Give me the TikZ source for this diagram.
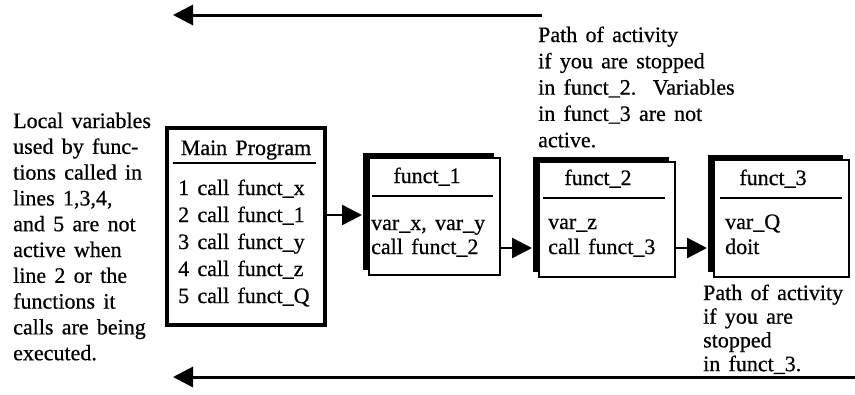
\documentclass[tikz,border=0pt]{standalone}
\usepackage{fontspec}
\setmainfont{Liberation Serif}[WordSpace=1.5, FakeBold=0.6]
\usetikzlibrary{arrows.meta,shadows}
\begin{document}
\begin{tikzpicture}[x=1pt,y=-1pt,
  txt/.style={font=\fontsize{22}{26}\selectfont, inner sep=0pt, anchor=base west},
  hdr/.style={font=\fontsize{22}{26}\selectfont, inner sep=0pt, anchor=base},
  mainbox/.style={draw, line width=3.5pt, inner sep=0pt},
  fbox/.style={draw, line width=2pt, fill=white, inner sep=0pt,
    general shadow={fill=black, shadow xshift=-6pt, shadow yshift=5pt}},
  rule/.style={line width=2.5pt},
  conn/.style={line width=2.5pt, -{Triangle[length=20pt,width=20pt]}},
  bigarrow/.style={line width=3pt, -{Triangle[length=20pt,width=20pt]}}
]
\useasboundingbox (0,0) rectangle (855,394);

% long arrows
\coordinate (topstart) at (542,15);
\coordinate (topend) at (173,15);
\draw[bigarrow] (topstart) -- (topend);
\coordinate (botstart) at (855,377);
\coordinate (botend) at (173,377);
\draw[bigarrow] (botstart) -- (botend);

% main program box
\node[mainbox, minimum width=158pt, minimum height=197pt] (main) at (246,226.5) {};
\node[hdr] (mainh) at (246,155) {Main Program};
\draw[line width=2pt] (173,163) -- (316,163);
\foreach \t [count=\i] in {1 call funct\_x, 2 call funct\_1, 3 call funct\_y, 4 call funct\_z, 5 call funct\_Q}
  \node[txt] (m\i) at (178,{195+27*(\i-1)}) {\t};

% funct_1
\node[fbox, minimum width=131pt, minimum height=117pt] (f1) at (434.5,216.5) {};
\node[hdr] (f1h) at (427,183) {funct\_1};
\draw[rule] (372,196) -- (493,196);
\node[txt] (f1a) at (371,230) {var\_x, var\_y};
\node[txt] (f1b) at (371,254) {call funct\_2};

% funct_2
\node[fbox, minimum width=136pt, minimum height=115pt] (f2) at (607,219.5) {};
\node[hdr] (f2h) at (598,185) {funct\_2};
\draw[rule] (543,198) -- (665,198);
\node[txt] (f2a) at (548,229) {var\_z};
\node[txt] (f2b) at (548,254) {call funct\_3};

% funct_3
\node[fbox, minimum width=135pt, minimum height=117pt] (f3) at (781.5,218.5) {};
\node[hdr] (f3h) at (773,185) {funct\_3};
\draw[rule] (720,198) -- (842,198);
\node[txt] (f3a) at (725,229) {var\_Q};
\node[txt] (f3b) at (725,254) {doit};

% connectors
\draw[conn] (main.east |- 0,215) -- ([xshift=-6pt]f1.west |- 0,215);
\draw[conn] (f1.east |- 0,248) -- ([xshift=-6pt]f2.west |- 0,248);
\draw[conn] (f2.east |- 0,248) -- ([xshift=-6pt]f3.west |- 0,248);

% left text
\foreach \t [count=\i] in {Local variables, used by func-, tions called in, {lines 1,3,4,}, and 5 are not, active when, line 2 or the, functions it, calls are being, executed.}
  \node[txt] (left\i) at (13,{128+25.8*(\i-1)}) {\t};

% top right text
\foreach \t [count=\i] in {Path of activity, if you are stopped, in funct\_2.\ \ Variables, in funct\_3 are not, active.}
  \node[txt] (tr\i) at (538,{42+26.3*(\i-1)}) {\t};

% bottom right text
\foreach \t [count=\i] in {Path of activity, if you are, stopped, in funct\_3.}
  \node[txt] (br\i) at (703,{300+23.7*(\i-1)}) {\t};
\end{tikzpicture}
\end{document}
